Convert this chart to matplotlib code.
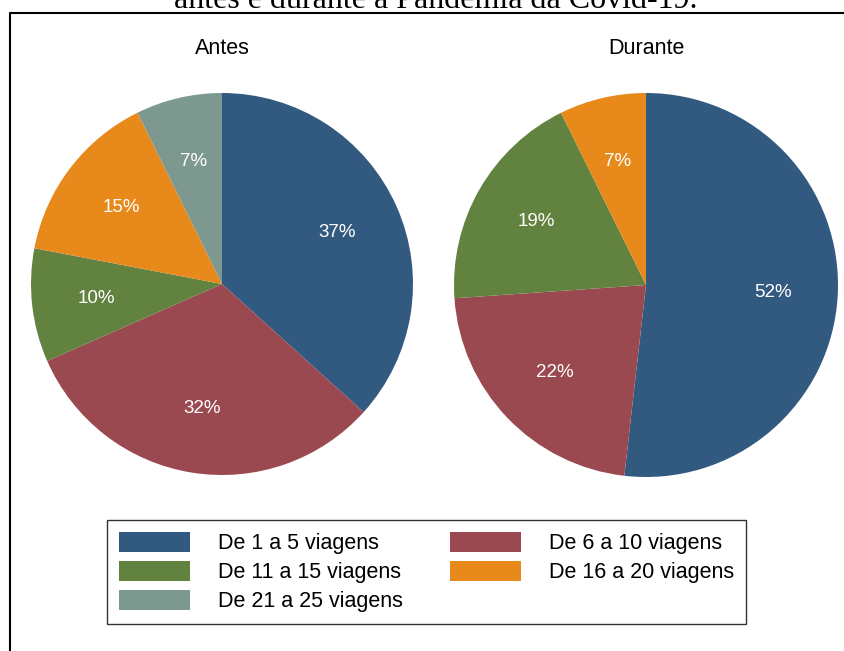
import matplotlib
matplotlib.use("Agg")
import matplotlib.pyplot as plt
from matplotlib.patches import Patch
from matplotlib.lines import Line2D

plt.rcParams["font.family"] = ["Liberation Sans", "DejaVu Sans"]

# categorias e valores (percentuais)
categorias = ["De 1 a 5 viagens", "De 6 a 10 viagens", "De 11 a 15 viagens",
              "De 16 a 20 viagens", "De 21 a 25 viagens"]
cores = ["#325a80", "#9b4950", "#62823f", "#e8891c", "#7d998f"]
antes = [36.7, 31.7, 9.6, 14.7, 7.3]
durante = [51.8, 22.1, 18.8, 7.3, 0.0]
titulos = ["Antes", "Durante"]

W, H = 844, 651
fig = plt.figure(figsize=(W / 100, H / 100), dpi=100)
fig.patch.set_facecolor("white")

# titulo cortado no topo da imagem
fig.text(436 / W, 1 - 8.5 / H, "antes e durante a Pandemia da Covid-19.",
         ha="center", va="baseline", fontsize=23,
         family=["Liberation Serif", "DejaVu Serif"])

# moldura do documento
fig.add_artist(Line2D([9.5 / W, 9.5 / W, 1.0],
                      [0, 1 - 12.5 / H, 1 - 12.5 / H],
                      color="black", lw=1.5, transform=fig.transFigure,
                      zorder=10))


def desenha(pos, valores, titulo, ytit):
    ax = fig.add_axes(pos)
    vals = [v for v in valores if v > 0]
    cs = [c for v, c in zip(valores, cores) if v > 0]
    ax.pie(vals, colors=cs, startangle=90, counterclock=False,
           autopct="%.0f%%", pctdistance=0.66,
           wedgeprops=dict(linewidth=0),
           textprops=dict(color="white", fontsize=13.5))
    ax.set_xlim(-1, 1)
    ax.set_ylim(-1, 1)
    ax.set_aspect("equal")
    ax.axis("off")
    fig.text(pos[0] + pos[2] / 2, ytit, titulo, ha="center", va="center",
             fontsize=15.5)


desenha([31 / W, 176 / H, 382 / W, 382 / H], antes, titulos[0], 1 - 48 / H)
desenha([454 / W, 174 / H, 384 / W, 384 / H], durante, titulos[1], 1 - 48 / H)

# legenda (ordem por colunas para ficar em linhas como no original)
ordem = [0, 2, 4, 1, 3]
handles = [Patch(facecolor=cores[i], edgecolor="none") for i in ordem]
labels = [categorias[i] for i in ordem]
leg = fig.legend(handles, labels, loc="center", ncol=2,
                 bbox_to_anchor=(426.5 / W, 79 / H),
                 fontsize=15.5, frameon=True, fancybox=False,
                 edgecolor="black", handlelength=3.3, handleheight=1.05,
                 handletextpad=1.3, columnspacing=2.2, labelspacing=0.3,
                 borderpad=0.55, borderaxespad=0)
leg.get_frame().set_linewidth(1.0)

fig.savefig("out.png", dpi=100, facecolor="white")
